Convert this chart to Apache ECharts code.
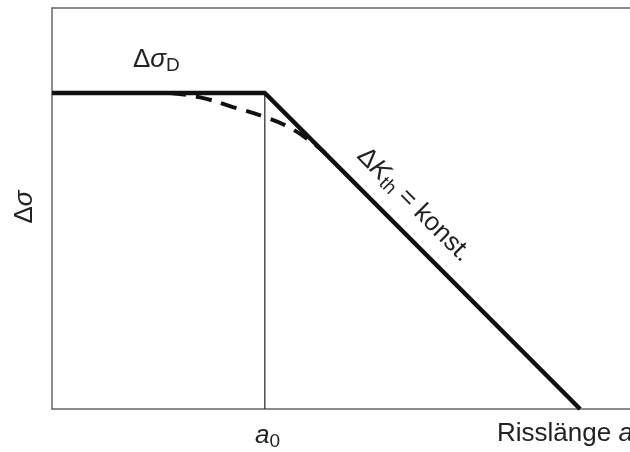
<!DOCTYPE html>
<html>
<head>
    <meta charset="utf-8">
    <script src="https://cdn.jsdelivr.net/npm/echarts@6/dist/echarts.min.js"></script>
    <style>
        html, body { margin: 0; padding: 0; background: #fff; }
    </style>
</head>
<body>
    <div id="main" style="width: 630px;height:452px"></div>

    <script type="text/javascript">
        // Daten (Achsen ohne Skala: 0..11 / 0..10)
        var solidLine = [[0, 7.88], [4.05, 7.88], [10.05, 0]];
        var dashedCurve = [[2.25, 7.88], [2.82, 7.77], [3.44, 7.53], [4.05, 7.28],
                           [4.53, 7.01], [4.97, 6.63], [5.20, 6.38]];
        var a0Line = [[4.05, 0], [4.05, 7.88]];

        var labelFont = 'Liberation Sans, Arial, sans-serif';
        var myChart = echarts.init(document.getElementById('main'));

        var option = {
            animation: false,
            grid: { left: 52, right: 0, top: 8, bottom: 43 },
            xAxis: [{
                type: 'value', min: 0, max: 11,
                axisLine: { show: true, lineStyle: { color: '#666', width: 1.5 } },
                axisTick: { show: false }, axisLabel: { show: false }, splitLine: { show: false }
            }, {
                type: 'value', min: 0, max: 11, position: 'top',
                axisLine: { show: true, lineStyle: { color: '#666', width: 1.5 } },
                axisTick: { show: false }, axisLabel: { show: false }, splitLine: { show: false }
            }],
            yAxis: {
                type: 'value', min: 0, max: 10,
                axisLine: { show: true, lineStyle: { color: '#666', width: 1.5 } },
                axisTick: { show: false }, axisLabel: { show: false }, splitLine: { show: false }
            },
            series: [{
                type: 'line',
                data: a0Line,
                symbol: 'none',
                lineStyle: { color: '#333', width: 1.3 }
            }, {
                type: 'line',
                data: dashedCurve,
                smooth: true,
                symbol: 'none',
                lineStyle: { color: '#111', width: 4, type: [16, 10] }
            }, {
                type: 'line',
                data: solidLine,
                symbol: 'none',
                lineStyle: { color: '#111', width: 4.5, join: 'miter' }
            }],
            graphic: [{
                type: 'text', x: 133, y: 45,
                style: {
                    text: '{n|Δ}{i|σ}{s|D}', align: 'left', verticalAlign: 'top',
                    rich: {
                        n: { fontSize: 26, fontFamily: labelFont, lineHeight: 30, fill: '#222' },
                        i: { fontSize: 26, fontFamily: labelFont, fontStyle: 'italic', lineHeight: 30, fill: '#222' },
                        s: { fontSize: 19, fontFamily: labelFont, lineHeight: 13, verticalAlign: 'bottom', fill: '#222' }
                    }
                }
            }, {
                type: 'text', x: 361, y: 152, rotation: -Math.PI / 4,
                style: {
                    text: '{n|Δ}{i|K}{s|th}{n| = konst.}', align: 'left', verticalAlign: 'middle',
                    rich: {
                        n: { fontSize: 26, fontFamily: labelFont, lineHeight: 30, fill: '#222' },
                        i: { fontSize: 26, fontFamily: labelFont, fontStyle: 'italic', lineHeight: 30, fill: '#222' },
                        s: { fontSize: 19, fontFamily: labelFont, lineHeight: 12, verticalAlign: 'bottom', fill: '#222' }
                    }
                }
            }, {
                type: 'text', x: 25, y: 207, rotation: Math.PI / 2,
                style: {
                    text: '{n|Δ}{i|σ}', align: 'center', verticalAlign: 'middle',
                    rich: {
                        n: { fontSize: 26, fontFamily: labelFont, fill: '#222' },
                        i: { fontSize: 26, fontFamily: labelFont, fontStyle: 'italic', fill: '#222' }
                    }
                }
            }, {
                type: 'text', x: 255, y: 421,
                style: {
                    text: '{i|a}{s|0}', align: 'left', verticalAlign: 'top',
                    rich: {
                        i: { fontSize: 26, fontFamily: labelFont, fontStyle: 'italic', lineHeight: 30, fill: '#222' },
                        s: { fontSize: 19, fontFamily: labelFont, lineHeight: 14, verticalAlign: 'bottom', fill: '#222' }
                    }
                }
            }, {
                type: 'text', x: 497, y: 434,
                style: {
                    text: '{n|Risslänge }{i|a}', align: 'left', verticalAlign: 'middle',
                    rich: {
                        n: { fontSize: 26, fontFamily: labelFont, fill: '#222' },
                        i: { fontSize: 26, fontFamily: labelFont, fontStyle: 'italic', fill: '#222' }
                    }
                }
            }]
        };

        myChart.setOption(option);
    </script>
</body>
</html>
